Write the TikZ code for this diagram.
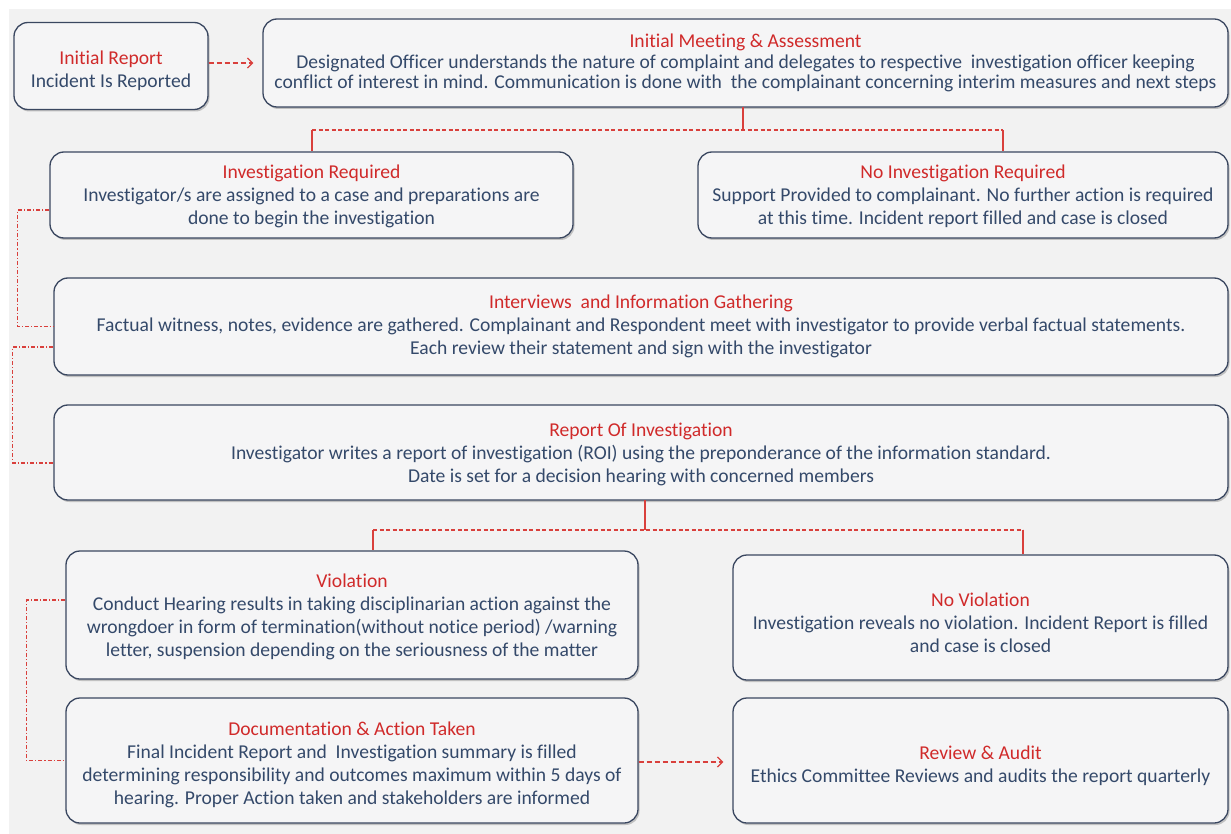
\documentclass[tikz,border=0pt]{standalone}
\usepackage{fontspec}
\setmainfont{Carlito}[Ligatures=NoCommon]
\usetikzlibrary{arrows.meta,shadows}
\definecolor{bgcol}{HTML}{F2F2F2}
\definecolor{boxfill}{HTML}{F5F5F6}
\definecolor{boxline}{HTML}{3A4760}
\definecolor{txt}{HTML}{34496A}
\definecolor{hdr}{HTML}{D02A2A}
\definecolor{link}{HTML}{D9403C}
\newcommand{\hd}[1]{\textcolor{hdr}{#1}}

\begin{document}
\begin{tikzpicture}[x=1pt,y=-1pt,
  stage/.style={draw=boxline, line width=1.3pt, fill=boxfill, rounded corners=14pt,
    inner sep=0pt,
    drop shadow={shadow xshift=1.5pt, shadow yshift=-2pt, opacity=0.35, fill=black!60}},
  stagetext/.style={align=center, text=txt, inner sep=0pt,
    font=\fontsize{19.6}{23}\selectfont},
  solidlink/.style={draw=link, line width=1.1pt},
  dashlink/.style={draw=link, line width=1.1pt, dash pattern=on 4pt off 2.5pt},
  looplink/.style={draw=link, line width=1.2pt, dash pattern=on 4pt off 2pt on 1.2pt off 2pt},
  flowarrow/.style={draw=link, line width=1.3pt, dash pattern=on 5pt off 3pt,
    -{Straight Barb[length=5pt,width=10pt,line width=1.3pt]}}
]
\useasboundingbox (0,0) rectangle (1231,834);
\fill[white] (0,0) rectangle (1231,834);
\fill[bgcol] (9,9) rectangle (1231,834);

% stage boxes
\node[stage, minimum width=194pt, minimum height=87pt] (b1) at (111,66) {};
\node[stage, minimum width=965pt, minimum height=88pt] (b2) at (745.5,63) {};
\node[stage, minimum width=523pt, minimum height=86pt] (b3) at (311.5,195) {};
\node[stage, minimum width=530pt, minimum height=86pt] (b4) at (963,195) {};
\node[stage, minimum width=1174pt, minimum height=97pt] (b5) at (641,326.5) {};
\node[stage, minimum width=1174pt, minimum height=95pt] (b6) at (641,452.5) {};
\node[stage, minimum width=572pt, minimum height=128pt] (b7) at (352,615) {};
\node[stage, minimum width=495pt, minimum height=125pt] (b8) at (980.5,617.5) {};
\node[stage, minimum width=572pt, minimum height=125pt] (b9) at (352,760.5) {};
\node[stage, minimum width=495pt, minimum height=125pt] (b10) at (980.5,760.5) {};

% stage texts
\node[stagetext] (t1) at ([yshift=-5pt]b1.center)
  {\hd{Initial Report}\\Incident Is Reported};
\node[stagetext, font=\fontsize{19.6}{20.5}\selectfont] (t2) at (b2.center)
  {\hd{Initial Meeting \& Assessment}\\
   Designated Officer understands the nature of complaint and delegates to respective\ \ investigation officer keeping\\
   conflict of interest in mind. Communication is done with\ \ the complainant concerning interim measures and next steps};
\node[stagetext] (t3) at ([yshift=-1pt]b3.center)
  {\hd{Investigation Required}\\
   Investigator/s are assigned to a case and preparations are\\
   done to begin the investigation};
\node[stagetext] (t4) at ([yshift=-1pt]b4.center)
  {\hd{No Investigation Required}\\
   Support Provided to complainant. No further action is required\\
   at this time. Incident report filled and case is closed};
\node[stagetext] (t5) at (b5.center)
  {\hd{Interviews\ \ and Information Gathering}\\
   Factual witness, notes, evidence are gathered. Complainant and Respondent meet with investigator to provide verbal factual statements.\\
   Each review their statement and sign with the investigator};
\node[stagetext] (t6) at ([yshift=-2pt]b6.center)
  {\hd{Report Of Investigation}\\
   Investigator writes a report of investigation (ROI) using the preponderance of the information standard.\\
   Date is set for a decision hearing with concerned members};
\node[stagetext] (t7) at ([yshift=-2pt]b7.center)
  {\hd{Violation}\\
   Conduct Hearing results in taking disciplinarian action against the\\
   wrongdoer in form of termination(without notice period) /warning\\
   letter, suspension depending on the seriousness of the matter};
\node[stagetext] (t8) at ([yshift=-5pt]b8.center)
  {\hd{No Violation}\\
   Investigation reveals no violation. Incident Report is filled\\
   and case is closed};
\node[stagetext] (t9) at ([yshift=-4pt]b9.center)
  {\hd{Documentation \& Action Taken}\\
   Final Incident Report and\ \ Investigation summary is filled\\
   determining responsibility and outcomes maximum within 5 days of\\
   hearing. Proper Action taken and stakeholders are informed};
\node[stagetext] (t10) at ([yshift=-5pt]b10.center)
  {\hd{Review \& Audit}\\
   Ethics Committee Reviews and audits the report quarterly};

% straight flow arrows
\draw[flowarrow, shorten >=9pt] ([yshift=3pt]b1.east) -- ([yshift=3pt]b1.east -| b2.west);
\draw[flowarrow, shorten >=9pt] ([yshift=-1.5pt]b9.east) -- ([yshift=-1.5pt]b9.east -| b10.west);

% branch after the initial meeting
\coordinate (ta) at (312,130);
\coordinate (tb) at (1003,130);
\draw[solidlink] (743,107) -- (743,130);
\draw[dashlink] (ta) -- (tb);
\draw[solidlink] (ta) -- (ta |- b3.north);
\draw[solidlink] (tb) -- (tb |- b4.north);

% branch after the report of investigation
\coordinate (ba) at (373,530);
\coordinate (bb) at (1023,530);
\draw[solidlink] (645,500) -- (645,530);
\draw[dashlink] (ba) -- (bb);
\draw[solidlink] (ba) -- (ba |- b7.north);
\draw[solidlink] (bb) -- (bb |- b8.north);

% side loops on the left
\draw[looplink] ([yshift=-15pt]b3.west) -- ++(-32,0) |- (b5.west);
\draw[looplink] ([yshift=-20.5pt]b5.west) -- ++(-41,0) |- ([yshift=-10.5pt]b6.west);
\draw[looplink] ([yshift=15pt]b7.west) -- ++(-39,0) |- (b9.west);
\end{tikzpicture}
\end{document}
